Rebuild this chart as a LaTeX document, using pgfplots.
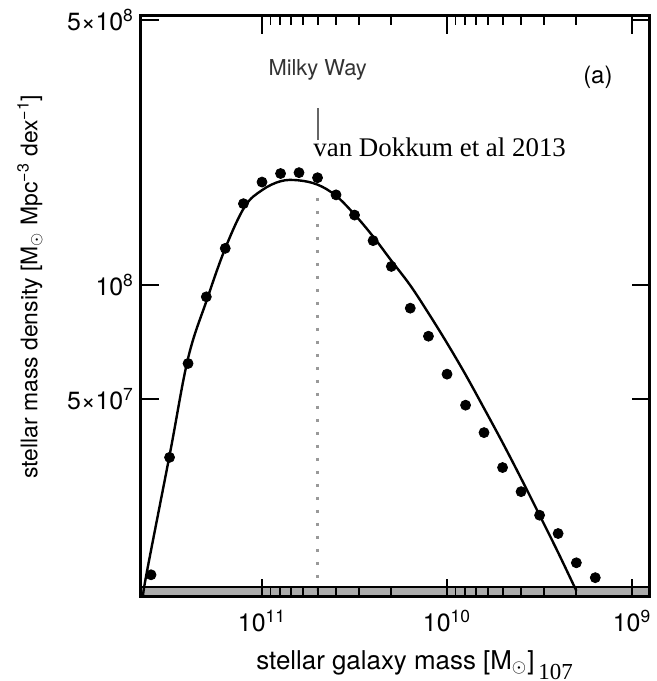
\documentclass[border=0pt]{standalone}
\usepackage{pgfplots}
\pgfplotsset{compat=1.18}
\usepackage{fontspec}
\setmainfont{TeX Gyre Heros}
\newfontfamily\timesfont{Liberation Serif}

\begin{document}
\begin{tikzpicture}
\begin{axis}[
  at={(0,0)}, anchor=south west,
  scale only axis, width=254.5bp, height=290.5bp,
  xmode=log, ymode=log, x dir=reverse,
  xmin=8.0e8, xmax=4.51e11, ymin=1.503e7, ymax=5.13e8,
  xtick={1e9,1e10,1e11},
  xticklabels={10\textsuperscript{9},10\textsuperscript{10},10\textsuperscript{11}},
  ytick={5e7,1e8,5e8},
  yticklabels={5×10\textsuperscript{7},10\textsuperscript{8},5×10\textsuperscript{8}},
  axis line style={line width=1.5bp},
  major tick length=9bp, minor tick length=4.5bp,
  every tick/.style={black, line width=0.9bp},
  tick label style={font=\fontsize{12.5}{14}\selectfont},
  xticklabel style={yshift=-3bp},
  xlabel={stellar\ galaxy\ mass\ [M$_\odot$]},
  ylabel={stellar mass density [M$_\odot$ Mpc\textsuperscript{−3} dex\textsuperscript{−1}]},
  every axis y label/.style={at={(axis description cs:-0.218,0.534)}, rotate=90, anchor=center, font=\fontsize{11.5}{13}\selectfont},
  every axis x label/.style={at={(axis description cs:0.5,-0.113)}, anchor=center, font=\fontsize{13}{15}\selectfont},
  axis on top,
]
% grey band along the bottom
\fill[gray!65, draw=black, line width=0.8bp] (axis cs:4.51e11,1.503e7) rectangle (axis cs:8e8,1.596e7);

% Milky Way marker
\draw[gray!80, line width=1.5bp, dash pattern=on 1.5bp off 5bp] (axis cs:5.0e10,1.70e8) -- (axis cs:5.0e10,1.503e7);
\draw[gray!80!black, line width=1.2bp] (axis cs:5.0e10,2.93e8) -- (axis cs:5.0e10,2.41e8);
\node[text=black!80, font=\fontsize{11}{12}\selectfont] at (axis cs:5.0e10,3.69e8) {Milky Way};
\node[font=\fontsize{12}{13}\selectfont] at (axis cs:1.53e9,3.54e8) {(a)};
\node[anchor=base west, inner sep=0pt, font=\timesfont\fontsize{13.5}{15}\selectfont] at (axis cs:5.30e10,2.18e8) {van Dokkum et al 2013};

% fit curve
\addplot[black, line width=1.2bp, smooth, tension=0.6] coordinates {
(4.40e11,1.50e7) (4.20e11,1.74e7) (3.14e11,3.61e7) (2.51e11,6.41e7)
(1.99e11,9.12e7) (1.58e11,1.25e8) (1.24e11,1.61e8) (1.00e11,1.78e8)
(7.93e10,1.88e8) (6.37e10,1.89e8) (5.00e10,1.84e8) (3.98e10,1.72e8)
(3.14e10,1.53e8) (2.50e10,1.34e8) (2.00e10,1.16e8) (1.58e10,9.98e7)
(1.26e10,8.43e7) (1.00e10,7.03e7) (7.94e9,5.80e7) (6.31e9,4.73e7)
(5.01e9,3.84e7) (3.98e9,3.09e7) (3.16e9,2.47e7) (2.51e9,1.97e7)
(2.00e9,1.56e7)
};

% data points
\addplot[only marks, mark=*, mark size=2.5bp, black] coordinates {
(3.98e11,1.72e7) (3.16e11,3.51e7) (2.51e11,6.21e7) (2.00e11,9.31e7)
(1.58e11,1.25e8) (1.26e11,1.64e8) (1.00e11,1.87e8) (7.94e10,1.97e8)
(6.31e10,1.98e8) (5.01e10,1.92e8) (3.98e10,1.73e8) (3.16e10,1.53e8)
(2.51e10,1.31e8) (2.00e10,1.12e8) (1.58e10,8.69e7) (1.26e10,7.33e7)
(1.00e10,5.82e7) (7.94e9,4.82e7) (6.31e9,4.08e7) (5.01e9,3.30e7)
(3.98e9,2.85e7) (3.16e9,2.47e7) (2.51e9,2.21e7) (2.00e9,1.85e7)
(1.58e9,1.69e7)
};
\end{axis}
\node[anchor=base west, inner sep=0pt, font=\timesfont\fontsize{11.5}{13}\selectfont] at (198.5bp,-41bp) {107};
\pgfresetboundingbox
\path (-70.5bp,-42bp) rectangle (258bp,298.5bp);
\end{tikzpicture}
\end{document}
